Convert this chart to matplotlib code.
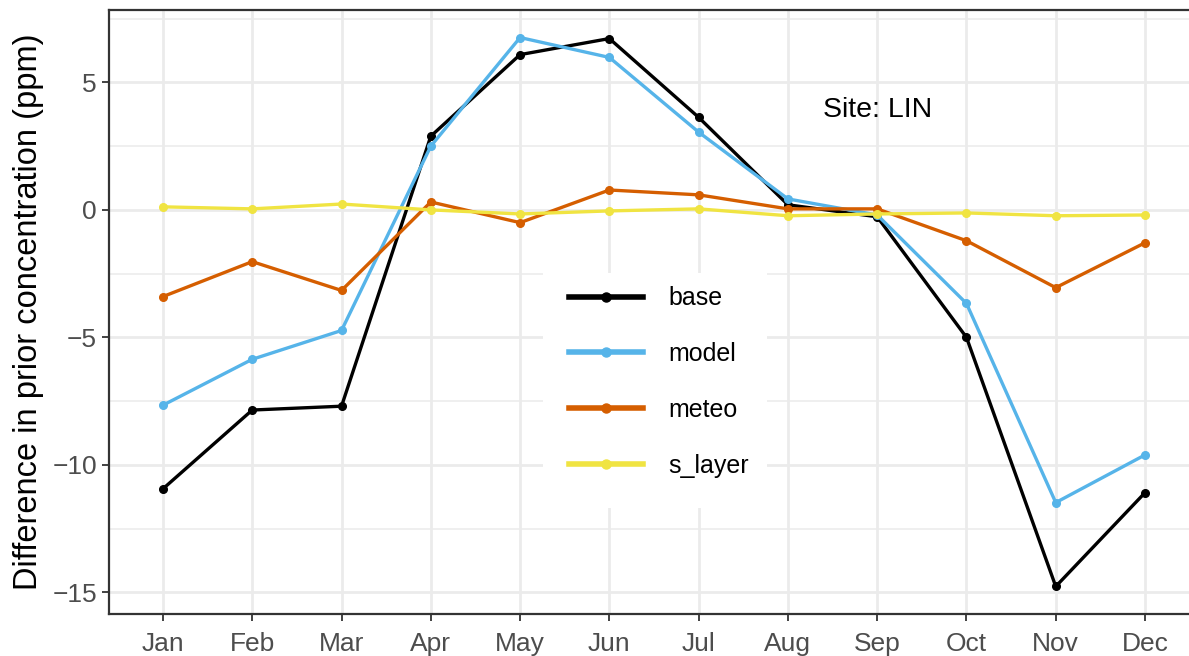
import matplotlib
matplotlib.use("Agg")
import matplotlib.pyplot as plt
from matplotlib.ticker import MultipleLocator
from matplotlib.lines import Line2D
from matplotlib.patches import Rectangle

months = ["Jan", "Feb", "Mar", "Apr", "May", "Jun", "Jul", "Aug", "Sep", "Oct", "Nov", "Dec"]
base = [-10.94, -7.85, -7.70, 2.89, 6.09, 6.72, 3.63, 0.20, -0.27, -5.00, -14.77, -11.09]
model = [-7.66, -5.86, -4.73, 2.50, 6.76, 5.98, 3.05, 0.43, -0.20, -3.67, -11.48, -9.61]
meteo = [-3.40, -2.03, -3.16, 0.31, -0.50, 0.78, 0.59, 0.04, 0.04, -1.21, -3.05, -1.29]
s_layer = [0.12, 0.04, 0.23, 0.00, -0.16, -0.04, 0.04, -0.23, -0.16, -0.12, -0.23, -0.20]

series_names = ["base", "model", "meteo", "s_layer"]
series_colors = ["#000000", "#56B4E9", "#D55E00", "#F0E442"]

plt.rcParams['font.family'] = ['Liberation Sans', 'DejaVu Sans']

fig = plt.figure(figsize=(11.89, 6.56), dpi=100)
X0, X1, Y0, Y1 = 109.4, 1198.6, 10.0, 614.0
L, B = X0 / 1189, 1 - Y1 / 656
R, T = X1 / 1189, 1 - Y0 / 656
ax = fig.add_axes([L, B, R - L, T - B])

def axx(px):
    return (px - X0) / (X1 - X0)

def axy(py):
    return (Y1 - py) / (Y1 - Y0)

x = list(range(1, len(months) + 1))
data = [base, model, meteo, s_layer]
for name, col, vals in zip(series_names, series_colors, data):
    ax.plot(x, vals, color=col, lw=2.4, marker="o", ms=5.5, zorder=3,
            solid_joinstyle="round")

ax.set_xlim(0.4, 12.6)
ax.set_ylim(-15.85, 7.84)
ax.set_xticks(x)
ax.set_xticklabels(months)
ax.yaxis.set_minor_locator(MultipleLocator(2.5))
ax.set_yticks([5, 0, -5, -10, -15])
ax.set_yticklabels(["5", "0", "\u22125", "\u221210", "\u221215"])
ax.grid(which="major", color="#ebebeb", lw=2.0, zorder=0)
ax.grid(which="minor", axis="y", color="#ebebeb", lw=1.1, zorder=0)
ax.set_axisbelow(True)
ax.tick_params(axis="both", which="major", length=5, width=1.3, color="#333333",
               labelsize=19, labelcolor="#4d4d4d", pad=4)
ax.tick_params(axis="x", which="major", pad=8)
ax.tick_params(axis="y", which="minor", length=0)
for s in ax.spines.values():
    s.set_color("#333333")
    s.set_linewidth(1.6)
ax.set_ylabel("Difference in prior concentration (ppm)", fontsize=23.5, labelpad=6)

ax.text(9, 3.9, "Site: LIN", fontsize=20.5, ha="center", va="center", color="black")

# legend background
ax.add_patch(Rectangle((axx(543), axy(508)), axx(767) - axx(543), axy(273) - axy(508),
                       transform=ax.transAxes, facecolor="white", edgecolor="none", zorder=2))

handles = [Line2D([0], [0], color=c, lw=4, marker="o", ms=6.5) for c in series_colors]
leg = ax.legend(handles, series_names, loc="center left",
                bbox_to_anchor=(axx(569), axy(382)),
                frameon=False, fontsize=18, handlelength=2.96, handletextpad=1.0,
                labelspacing=1.27, borderpad=0.0, borderaxespad=0.0)
leg.set_zorder(4)

fig.savefig("out.png", dpi=100)
